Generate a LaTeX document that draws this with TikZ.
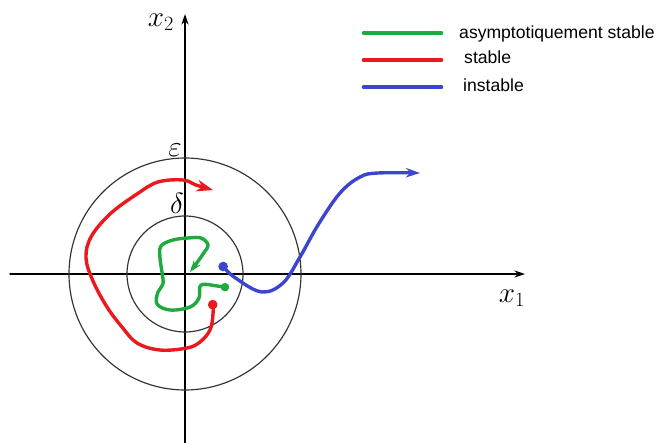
\documentclass[tikz,border=0pt]{standalone}
\usepackage{fontspec}
\newfontfamily\legendfont{Liberation Sans}
\usetikzlibrary{arrows.meta}
\definecolor{vert}{RGB}{30,170,60}
\definecolor{rouge}{RGB}{235,25,30}
\definecolor{bleu}{RGB}{60,70,205}
\tikzset{
	traj/.style={line width=2.9pt, smooth, tension=0.6},
	legline/.style={line width=4pt},
	legtext/.style={anchor=base west, inner sep=0pt, font=\legendfont\fontsize{15}{18}\selectfont},
	circ/.style={line width=1pt, black!80}
}
\begin{document}
\begin{tikzpicture}[x=0.03cm, y=-0.03cm, line join=round, line cap=round, >={Stealth[length=9pt,width=6pt]}]
		\useasboundingbox (0,0) rectangle (662,443);
		% axes
		\coordinate (O) at (185,274);
		\coordinate (xmin) at (10,274);
		\coordinate (xmax) at (525,274);
		\coordinate (ymin) at (185,443);
		\coordinate (ymax) at (185,14);
		\draw[line width=1.1pt, ->] (xmin) -- (xmax);
		\draw[line width=1.1pt, ->] (ymin) -- (ymax);
		\node (lx1) at (512,298) {\fontsize{25}{30}\selectfont $x_1$};
		\node (lx2) at (161,22) {\fontsize{25}{30}\selectfont $x_2$};
		% spheres
		\draw[circ] (O) circle (116);
		\draw[circ] (O) circle (58);
		\node (leps) at (175,150) {\fontsize{25}{30}\selectfont $\varepsilon$};
		\node (ldelta) at (177,203) {\fontsize{25}{30}\selectfont $\delta$};
		% trajectoires
		\draw[traj, vert, {Circle[length=7pt]}-{Stealth[length=10pt,width=7pt]}] plot coordinates {(229,288) (217,286) (201,285) (199,298) (190,307) (170,310) (157,304) (158,292) (163,284) (162,272) (160,258) (161,246) (173,240) (188,238) (201,238) (208,245) (203,254) (196,264) (190,272)};
		\draw[traj, rouge, {Circle[length=8pt]}-{Stealth[length=14pt,width=10pt]}] plot coordinates {(212,300) (213,314) (210,330) (200,342) (187,348) (160,350) (137,343) (122,327) (107,307) (93,281) (86,258) (91,237) (110,214) (137,194) (158,182) (183,180) (196,185) (213,190)};
		\draw[traj, bleu, {Circle[length=8pt]}-{Stealth[length=12pt,width=8pt]}] plot coordinates {(220,263) (237,279) (262,292) (283,283) (300,257) (318,225) (340,193) (360,177) (378,173) (420,173)};
		% legende
		\draw[legline, vert] (364,33) -- (441,33);
		\draw[legline, rouge] (364,60) -- (441,60);
		\draw[legline, bleu] (364,87) -- (441,87);
		\node[legtext] (las) at (459,38) {asymptotiquement stable};
		\node[legtext] (ls) at (464,63) {stable};
		\node[legtext] (li) at (463,91) {instable};
	\end{tikzpicture}
\end{document}
